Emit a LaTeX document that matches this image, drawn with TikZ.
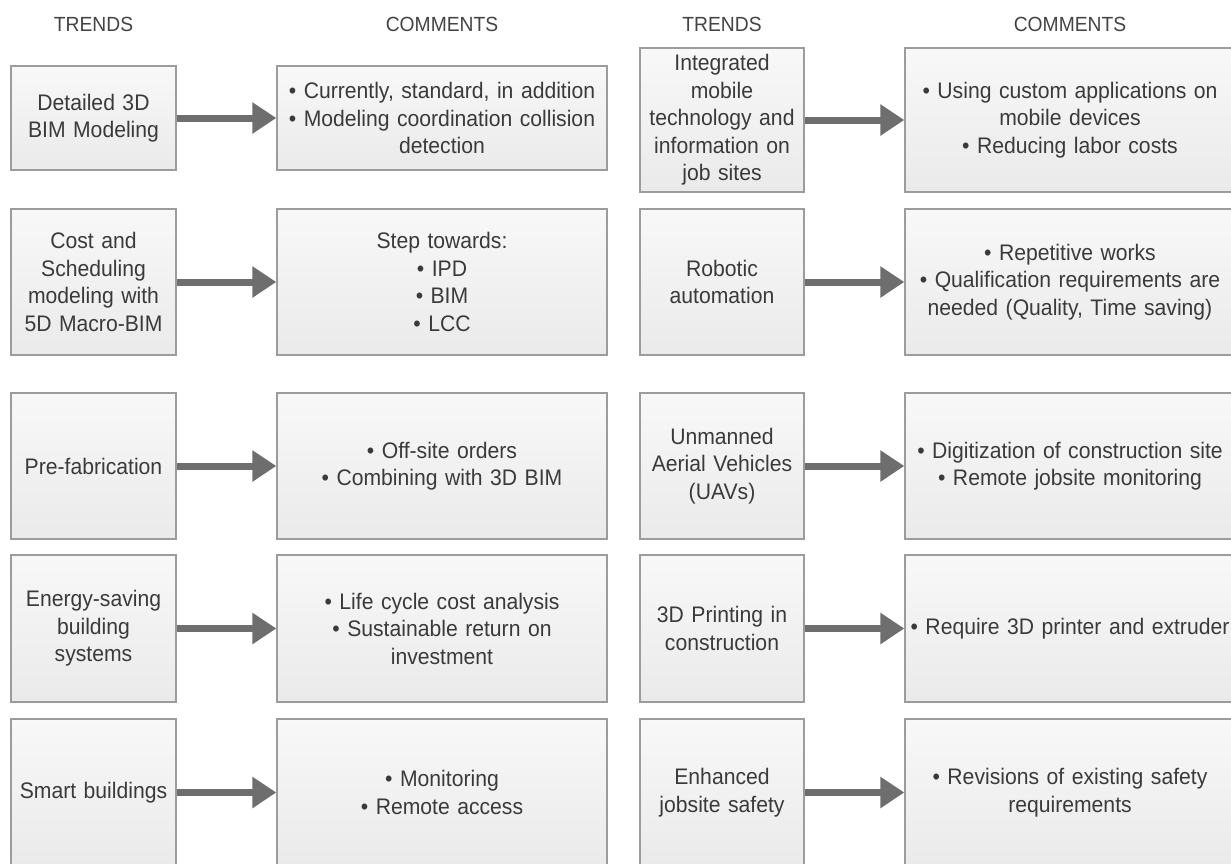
\documentclass[tikz,border=0pt]{standalone}
\usepackage{fontspec}
\setmainfont{Liberation Sans}[FakeStretch=0.94]
\usetikzlibrary{arrows.meta,shadows}
\definecolor{txt}{HTML}{3A3A3A}
\definecolor{hdr}{HTML}{444444}
\definecolor{brd}{HTML}{9C9C9C}
\definecolor{boxtop}{HTML}{F8F8F8}
\definecolor{boxbot}{HTML}{EAEAEA}
\definecolor{arr}{HTML}{6E6E6E}
\tikzset{
  box/.style={draw=brd, line width=1.4pt, top color=boxtop, bottom color=boxbot,
    inner sep=0pt, align=center, text=txt,
    font=\fontsize{22.5}{27.5}\selectfont,
    drop shadow={shadow xshift=0.8pt, shadow yshift=-0.8pt, opacity=0.25}},
  trendbox/.style={box, minimum width=165pt, text width=158pt},
  rtrendbox/.style={box, minimum width=164pt, text width=158pt},
  commentbox/.style={box, minimum width=330pt, text width=328pt},
  header/.style={text=hdr, inner sep=0pt, font=\fontsize{20.5}{24}\selectfont},
  flow/.style={draw=arr, line width=7pt, -{Triangle[length=24pt,width=30pt]}, shorten <=0.5pt}
}
\begin{document}
\begin{tikzpicture}[x=1pt,y=-1pt]
\fill[white] (0,0) rectangle (1231,863);
\useasboundingbox (0,0) rectangle (1231,863);

% headers
\node[header] (h1) at (93.5,24) {TRENDS};
\node[header] (h2) at (442,24) {COMMENTS};
\node[header] (h3) at (722,24) {TRENDS};
\node[header] (h4) at (1070,24) {COMMENTS};

% left column
\node[trendbox, minimum height=104pt] (t1) at (93.5,118) {Detailed 3D\\BIM Modeling};
\node[commentbox, minimum height=104pt] (c1) at (442,118) {\textbullet{} Currently, standard, in addition\\\textbullet{} Modeling coordination collision\\detection};

\node[trendbox, minimum height=146pt] (t2) at (93.5,282) {Cost and\\Scheduling\\modeling with\\5D Macro-BIM};
\node[commentbox, minimum height=146pt] (c2) at (442,282) {Step towards:\\\textbullet{} IPD\\\textbullet{} BIM\\\textbullet{} LCC};

\node[trendbox, minimum height=146pt] (t3) at (93.5,466) {Pre-fabrication};
\node[commentbox, minimum height=146pt] (c3) at (442,466) {\textbullet{} Off-site orders\\\textbullet{} Combining with 3D BIM};

\node[trendbox, minimum height=147pt] (t4) at (93.5,628.5) {Energy-saving\\building\\systems};
\node[commentbox, minimum height=147pt] (c4) at (442,628.5) {\textbullet{} Life cycle cost analysis\\\textbullet{} Sustainable return on\\investment};

\node[trendbox, minimum height=147pt] (t5) at (93.5,792.5) {Smart buildings};
\node[commentbox, minimum height=147pt] (c5) at (442,792.5) {\textbullet{} Monitoring\\\textbullet{} Remote access};

% right column
\node[rtrendbox, minimum height=144pt] (t6) at (722,120) {Integrated\\mobile\\technology and\\information on\\job sites};
\node[commentbox, minimum height=144pt] (c6) at (1070,120) {\textbullet{} Using custom applications on\\mobile devices\\\textbullet{} Reducing labor costs};

\node[rtrendbox, minimum height=146pt] (t7) at (722,282) {Robotic\\automation};
\node[commentbox, minimum height=146pt] (c7) at (1070,282) {\textbullet{} Repetitive works\\\textbullet{} Qualification requirements are\\needed (Quality, Time saving)};

\node[rtrendbox, minimum height=146pt] (t8) at (722,466) {Unmanned\\Aerial Vehicles\\(UAVs)};
\node[commentbox, minimum height=146pt] (c8) at (1070,466) {\textbullet{} Digitization of construction site\\\textbullet{} Remote jobsite monitoring};

\node[rtrendbox, minimum height=147pt] (t9) at (722,628.5) {3D Printing in\\construction};
\node[commentbox, minimum height=147pt] (c9) at (1070,628.5) {\textbullet{} Require 3D printer and extruder};

\node[rtrendbox, minimum height=147pt] (t10) at (722,792.5) {Enhanced\\jobsite safety};
\node[commentbox, minimum height=147pt] (c10) at (1070,792.5) {\textbullet{} Revisions of existing safety\\requirements};

% arrows
\foreach \i in {1,...,10} {
  \draw[flow] (t\i.east) -- (c\i.west);
}
\end{tikzpicture}
\end{document}
